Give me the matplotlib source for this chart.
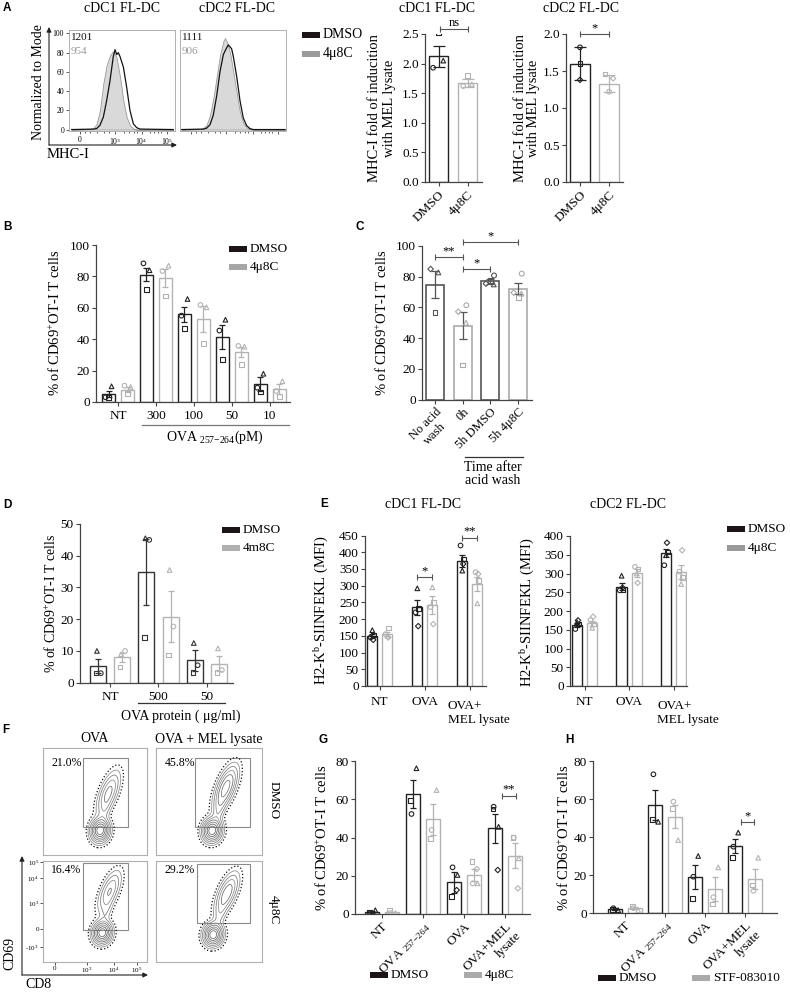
import numpy as np
import matplotlib

matplotlib.use("Agg")
import matplotlib.pyplot as plt
from matplotlib.lines import Line2D
from matplotlib.patches import FancyArrowPatch, Rectangle

plt.rcParams.update(
    {
        "font.family": ["Liberation Serif", "DejaVu Serif"],
        "mathtext.fontset": "custom",
        "mathtext.rm": "Liberation Serif",
        "mathtext.it": "Liberation Serif:italic",
        "mathtext.bf": "Liberation Serif:bold",
        "font.size": 9.5,
        "axes.linewidth": 0.9,
        "figure.facecolor": "white",
        "savefig.facecolor": "white",
    }
)

W, H = 790, 992
NAN = float("nan")
BLACK = "#222222"
LIGHT = "#b3b3b3"
MID = "#555555"

# ---------------- data ----------------
# A: MHC-I histograms (channel units, % of mode)
hist_ticks = [104, 434, 685, 921]
hist_ticklabels = ["0", "10$^3$", "10$^4$", "10$^5$"]
cdc1_dmso_x = [25, 230, 261, 292, 324, 355, 387, 418, 434, 450, 465, 481, 513, 544, 575, 607, 638, 670, 984]
cdc1_dmso_y = [0, 0.5, 1, 4.5, 13, 30, 51, 76, 83, 78, 80, 76, 65, 44, 20, 6, 2, 0.5, 0]
cdc1_4u8c_x = [25, 198, 230, 261, 292, 324, 355, 387, 412, 434, 450, 481, 513, 544, 575, 607, 638, 984]
cdc1_4u8c_y = [0, 0.5, 1.5, 6, 20, 48, 67, 77, 81, 79, 74, 55, 30, 13, 4.5, 1, 0, 0]
cdc2_dmso_x = [16, 220, 252, 283, 314, 346, 377, 409, 440, 456, 472, 487, 503, 535, 566, 597, 629, 660, 692, 991]
cdc2_dmso_y = [0, 0.5, 1.5, 5, 15, 35, 60, 78, 85, 88, 86, 84, 76, 55, 30, 12, 4, 1, 0, 0]
cdc2_4u8c_x = [16, 189, 220, 252, 283, 314, 346, 377, 409, 425, 447, 472, 503, 535, 566, 597, 629, 660, 692, 991]
cdc2_4u8c_y = [0, 0.5, 1.5, 5, 15, 32, 55, 77, 92, 95, 90, 80, 60, 38, 18, 7, 2, 0.5, 0, 0]
cdc1_mfi = ["1201", "954"]
cdc2_mfi = ["1111", "906"]

# A: fold induction bars
a_labels = ["DMSO", "4\u03bc8C"]
a1_mean = [2.12, 1.67]
a1_sd = [0.18, 0.07]
a1_pts = [("s", [2.52, 1.80]), ("o", [1.93, 1.62]), ("^", [2.05, 1.65])]
a2_mean = [1.60, 1.33]
a2_sd = [0.22, 0.12]
a2_pts = [("o", [1.82, 1.22]), ("s", [1.60, 1.46]), ("D", [1.38, 1.40])]

# B
b_groups = ["NT", "300", "100", "50", "10"]
b_dmso_mean = [5.3, 81.2, 55.8, 41.6, 11.7]
b_dmso_sem = [1.8, 4.4, 4.8, 7.7, 4.5]
b_dmso_pts = [("o", [3.0, 88.3, 55.0, 45.5, 9.1]), ("^", [10.0, 83.9, 65.6, 52.4, 18.0]), ("s", [3.0, 71.5, 46.9, 27.0, 6.4])]
b_4u8c_mean = [7.9, 79.0, 52.9, 32.0, 8.1]
b_4u8c_sem = [1.6, 5.7, 8.3, 3.3, 3.3]
b_4u8c_pts = [("o", [10.4, 83.4, 61.8, 35.7, 7.0]), ("^", [9.6, 86.8, 60.3, 35.2, 13.2]), ("s", [5.3, 67.5, 37.2, 24.0, 3.6])]

# C
c_labels = ["No acid\nwash", "0h", "5h DMSO", "5h 4\u03bc8C"]
c_mean = [74.9, 48.0, 76.9, 72.3]
c_sem = [9.0, 8.7, 1.5, 3.5]
c_pts = [
    ("o", [NAN, 61.4, 80.8, 82.0]),
    ("^", [82.8, 50.0, 75.0, 69.0]),
    ("s", [56.8, 22.5, 77.7, 66.6]),
    ("D", [85.0, 57.2, 75.5, 69.6]),
]

# D
d_groups = ["NT", "500", "50"]
d_dmso_mean = [5.2, 35.0, 7.1]
d_dmso_sem = [2.2, 10.4, 3.3]
d_dmso_pts = [("^", [10.0, 45.5, 12.5]), ("o", [3.0, 45.0, 5.5]), ("s", [3.0, 14.2, 3.2])]
d_4m8c_mean = [8.0, 20.8, 6.0]
d_4m8c_sem = [1.5, 8.0, 2.4]
d_4m8c_pts = [("^", [9.0, 35.5, 10.8]), ("o", [10.0, 17.7, 4.0]), ("s", [5.0, 8.7, 3.3])]

# E
e_groups = ["NT", "OVA", ""]
e1_dmso_mean = [150, 235, 375]
e1_dmso_sem = [6, 22, 18]
e1_dmso_pts = [("^", [167, 292, 345]), ("s", [152, 232, 380]), ("o", [145, 220, 420]), ("D", [138, 179, 365])]
e1_4u8c_mean = [156, 242, 305]
e1_4u8c_sem = [6, 26, 20]
e1_4u8c_pts = [("^", [150, 295, 247]), ("s", [174, 250, 315]), ("o", [155, 236, 340]), ("D", [145, 185, 335])]
e2_dmso_mean = [163, 265, 355]
e2_dmso_sem = [6, 9, 10]
e2_dmso_pts = [("^", [170, 294, 349]), ("s", [165, 258, 357]), ("o", [152, 255, 322]), ("D", [175, 262, 382])]
e2_4u8c_mean = [167, 301, 304]
e2_4u8c_sem = [7, 10, 18]
e2_4u8c_pts = [("^", [155, 300, 272]), ("s", [165, 312, 290]), ("o", [176, 318, 305]), ("D", [185, 275, 362])]

# F: flow plots (axes-fraction units)
flow_pct = ["21.0%", "45.8%", "16.4%", "29.2%"]
flow_gate = [(0.385, 0.26, 0.82, 0.91), (0.37, 0.26, 0.89, 0.91), (0.385, 0.32, 0.82, 0.98), (0.39, 0.39, 0.89, 0.97)]
flow_low = [(0.55, 0.23), (0.53, 0.23), (0.57, 0.29), (0.54, 0.27)]
flow_high = [(0.63, 0.58), (0.66, 0.63), (0.64, 0.70), (0.67, 0.68)]
flow_high_weight = [0.30, 0.50, 0.26, 0.36]

# G
g_labels = ["NT", "OVA $_{257\\mathrm{-}264}$", "OVA", "OVA+MEL\nlysate"]
g_dmso_mean = [1.2, 62.6, 16.6, 44.8]
g_dmso_sem = [0.5, 7.3, 5.5, 7.7]
g_dmso_pts = [("^", [2.0, 76.2, 20.4, 45.6]), ("s", [1.0, 59.2, 9.1, 54.9]), ("o", [0.5, 52.3, 24.4, 56.1]), ("D", [NAN, NAN, 12.5, 23.0])]
g_4u8c_mean = [0.8, 49.5, 20.4, 30.5]
g_4u8c_sem = [0.4, 8.0, 3.1, 6.5]
g_4u8c_pts = [("^", [0.5, 64.8, 16.0, 29.1]), ("s", [1.8, 39.4, 27.3, 39.9]), ("o", [0.5, 43.9, 16.0, 39.9]), ("D", [NAN, NAN, 23.5, 13.4])]

# H
h_dmso_mean = [2.0, 56.8, 18.9, 35.3]
h_dmso_sem = [0.5, 7.9, 6.4, 3.8]
h_dmso_pts = [("^", [1.5, 48.0, 30.0, 42.3]), ("o", [2.5, 73.0, 19.1, 34.9]), ("s", [2.0, 49.3, 7.7, 29.3])]
h_stf_mean = [2.5, 50.7, 12.5, 18.1]
h_stf_sem = [0.6, 6.1, 6.4, 5.3]
h_stf_pts = [("^", [1.5, 38.4, 24.0, 29.1]), ("o", [2.5, 58.6, 8.3, 11.7]), ("s", [3.5, 55.1, 4.7, 14.7])]

CD69_LABEL = "% of CD69$^{+}$OT-I T cells"
H2K_LABEL = "H2-K$^{\\mathrm{b}}$-SIINFEKL (MFI)"

fig = plt.figure(figsize=(W / 100, H / 100), dpi=100)


def px_axes(x0, y0, x1, y1):
    ax = fig.add_axes([x0 / W, 1 - y1 / H, (x1 - x0) / W, (y1 - y0) / H])
    ax.patch.set_alpha(0)
    return ax


def ftext(x, y, s, **kw):
    kw.setdefault("ha", "center")
    kw.setdefault("va", "center")
    fig.text(x / W, 1 - y / H, s, **kw)


def fline(x0, y0, x1, y1, color=MID, lw=0.9):
    fig.add_artist(Line2D([x0 / W, x1 / W], [1 - y0 / H, 1 - y1 / H], transform=fig.transFigure, color=color, lw=lw))


def farrow(x0, y0, x1, y1):
    fig.add_artist(
        FancyArrowPatch(
            (x0 / W, 1 - y0 / H), (x1 / W, 1 - y1 / H), transform=fig.transFigure,
            arrowstyle="-|>", mutation_scale=7, lw=0.8, color="#222222", shrinkA=0, shrinkB=0,
        )
    )


def swatch(x, y, color, label, w=18, h=6, fs=9.5):
    fig.add_artist(Rectangle((x / W, 1 - (y + h / 2) / H), w / W, h / H, transform=fig.transFigure,
                             facecolor=color, edgecolor="none"))
    ftext(x + w + 3, y, label, ha="left", fontsize=fs)


def letter(x, y, s):
    ftext(x, y, s, fontsize=8.5, fontweight="bold", family="Liberation Sans")


def style_bar_axes(ax, xlim, ylim, yticks, yfmt="{:g}"):
    ax.set_xlim(*xlim)
    ax.set_ylim(*ylim)
    ax.set_yticks(yticks)
    ax.set_yticklabels([yfmt.format(v) for v in yticks])
    ax.spines[["top", "right"]].set_visible(False)
    ax.spines[["left", "bottom"]].set_color("#444444")
    ax.tick_params(axis="both", length=3, width=0.8, color="#444444", labelsize=9.5, pad=1.5)


def draw_bars(ax, x, means, errs, pts, color, width, jitter, capsize=2.5, ecolor=None, ms=11):
    x = np.asarray(x, dtype=float)
    ax.bar(x, means, width, color="white", edgecolor=color, linewidth=1.0, zorder=2)
    ax.errorbar(x, means, yerr=errs, fmt="none", ecolor=ecolor or color, elinewidth=0.9,
                capsize=capsize, capthick=0.9, zorder=4)
    for marker, vals in pts:
        size = ms * 0.7 if marker == "D" else ms
        ax.scatter(x + jitter.get(marker, 0.0), vals, marker=marker, s=size, facecolors="none",
                   edgecolors=color, linewidths=0.8, zorder=5)


def bracket(ax, x0, x1, y, label, color=MID):
    ax.plot([x0, x1], [y, y], color=color, lw=0.8, marker="|", ms=4, mew=0.8, clip_on=False, zorder=6)
    ax.text((x0 + x1) / 2, y, label, ha="center", va="bottom", fontsize=9, clip_on=False)


def rot_labels(ax, labels, ticks, fs=9.5, malign="right"):
    ax.set_xticks(ticks)
    ax.set_xticklabels(labels, rotation=45, ha="right", va="top", rotation_mode="anchor",
                       fontsize=fs, multialignment=malign)


# ---------------- A: histograms ----------------
def hist_panel(box, dx, dy, gx_, gy_, mfi, labels_on):
    ax = px_axes(*box)
    ax.fill_between(gx_, gy_, color="#d9d9d9", edgecolor="#9a9a9a", linewidth=0.6, zorder=1)
    ax.plot(dx, dy, color="#111111", lw=0.9, zorder=2)
    ax.set_xlim(0, 1000)
    ax.set_ylim(-1.5, 103.5)
    for sp in ax.spines.values():
        sp.set_color("#b0b0b0")
        sp.set_linewidth(0.7)
    ax.set_xticks(hist_ticks)
    ax.set_xticks([150, 200, 260, 330, 380, 520, 570, 610, 640, 760, 800, 840, 870], minor=True)
    ax.set_xticklabels(hist_ticklabels if labels_on else [])
    if labels_on:
        ax.set_yticks([0, 20, 40, 60, 80, 100])
    else:
        ax.set_yticks([])
    ax.tick_params(which="both", labelsize=5.5, length=2.5, width=0.6, pad=1, color="#444444")
    ax.tick_params(which="minor", length=1.5)
    ax.text(0.02, 0.93, mfi[0], transform=ax.transAxes, fontsize=8, color="#111111", va="center")
    ax.text(0.02, 0.79, mfi[1], transform=ax.transAxes, fontsize=8, color="#999999", va="center")
    return ax


hist_panel((69, 30, 175, 131), cdc1_dmso_x, cdc1_dmso_y, cdc1_4u8c_x, cdc1_4u8c_y, cdc1_mfi, True)
hist_panel((180, 30, 286, 131), cdc2_dmso_x, cdc2_dmso_y, cdc2_4u8c_x, cdc2_4u8c_y, cdc2_mfi, False)
farrow(49, 145, 49, 27)
farrow(49, 145, 177, 145)
ftext(122, 8, "cDC1 FL-DC", fontsize=10)
ftext(237, 8, "cDC2 FL-DC", fontsize=10)
ftext(38, 82, "Normalized to Mode", rotation=90, fontsize=10)
ftext(68, 154, "MHC-I", fontsize=10.5)
swatch(302, 35, "#1c1416", "DMSO", fs=10)
swatch(302, 54, "#9b9b9b", "4\u03bc8C", fs=10)
letter(7, 8, "A")

# ---------------- A: fold induction ----------------
ax = px_axes(425, 34, 482, 182)
draw_bars(ax, [0], a1_mean[:1], a1_sd[:1], [(m, v[:1]) for m, v in a1_pts], BLACK, 0.66,
          {"s": 0.0, "o": -0.19, "^": 0.16}, capsize=4)
draw_bars(ax, [1], a1_mean[1:], a1_sd[1:], [(m, v[1:]) for m, v in a1_pts], LIGHT, 0.66,
          {"s": 0.0, "o": -0.15, "^": 0.15}, capsize=4)
style_bar_axes(ax, (-0.47, 1.5), (0, 2.5), [0, 0.5, 1.0, 1.5, 2.0, 2.5], "{:.1f}")
rot_labels(ax, a_labels, [0, 1])
bracket(ax, 0.05, 1.0, 2.58, "ns")
ftext(437, 8, "cDC1 FL-DC", fontsize=10)
ftext(382, 108, "MHC-I fold of inducition\nwith MEL lysate", rotation=90, fontsize=10.5, linespacing=1.1)

ax = px_axes(566, 34, 623, 182)
draw_bars(ax, [0], a2_mean[:1], a2_sd[:1], [(m, v[:1]) for m, v in a2_pts], BLACK, 0.69, {}, capsize=4)
draw_bars(ax, [1], a2_mean[1:], a2_sd[1:], [(m, v[1:]) for m, v in a2_pts], LIGHT, 0.69,
          {"o": 0.0, "s": -0.14, "D": 0.14}, capsize=4)
style_bar_axes(ax, (-0.48, 1.48), (0, 2.0), [0, 0.5, 1.0, 1.5, 2.0], "{:.1f}")
rot_labels(ax, a_labels, [0, 1])
bracket(ax, 0.0, 1.0, 2.0, "*")
ftext(581, 8, "cDC2 FL-DC", fontsize=10)
ftext(527, 108, "MHC-I fold of inducition\nwith MEL lysate", rotation=90, fontsize=10.5, linespacing=1.1)

# ---------------- B ----------------
ax = px_axes(96, 245, 290, 402)
gb = np.arange(len(b_groups))
jit_b = {"o": -0.08, "^": 0.08, "s": 0.0}
draw_bars(ax, gb - 0.25, b_dmso_mean, b_dmso_sem, b_dmso_pts, BLACK, 0.34, jit_b)
draw_bars(ax, gb + 0.25, b_4u8c_mean, b_4u8c_sem, b_4u8c_pts, LIGHT, 0.34, jit_b)
style_bar_axes(ax, (-0.58, 4.53), (0, 100), [0, 20, 40, 60, 80, 100])
ax.set_xticks(gb)
ax.set_xticklabels(b_groups)
ax.tick_params(axis="x", pad=3)
fline(142, 425, 289, 425, color="#777777")
ftext(215, 437, "OVA $_{257\\mathrm{-}264}$(pM)", fontsize=10)
ftext(55, 323, CD69_LABEL, rotation=90, fontsize=10.5)
swatch(229, 249, "#1c1416", "DMSO")
swatch(229, 267, "#a6a6a6", "4\u03bc8C")
letter(7, 227, "B")

# ---------------- C ----------------
ax = px_axes(422, 246, 532, 399.5)
gc = np.arange(len(c_labels))
c_colors = [MID, "#aaaaaa", MID, "#aaaaaa"]
ax.bar(gc, c_mean, 0.65, color="white", edgecolor=c_colors, linewidth=1.2, zorder=2)
ax.errorbar(gc, c_mean, yerr=c_sem, fmt="none", ecolor=MID, elinewidth=0.9, capsize=3, capthick=0.9, zorder=4)
jit_c = {"o": 0.13, "^": 0.12, "s": 0.0, "D": -0.16}
for marker, vals in c_pts:
    ax.scatter(gc + jit_c[marker], vals, marker=marker, s=8 if marker == "D" else 12, facecolors="none",
               edgecolors=c_colors, linewidths=0.8, zorder=5)
style_bar_axes(ax, (-0.47, 3.5), (0, 100), [0, 20, 40, 60, 80, 100])
rot_labels(ax, c_labels, gc, fs=9, malign="center")
bracket(ax, 0, 1, 92.6, "**")
bracket(ax, 1, 2, 85, "*")
bracket(ax, 1, 3, 102.4, "*")
fline(465, 457, 523, 457, color="#333333")
ftext(493, 474, "Time after\nacid wash", fontsize=10, linespacing=1.05)
ftext(382, 323, CD69_LABEL, rotation=90, fontsize=10.5)
letter(360, 227, "C")

# ---------------- D ----------------
ax = px_axes(80, 524, 233, 682.7)
gd = np.arange(len(d_groups))
jit_d = {"^": -0.02, "o": 0.06, "s": -0.04}
draw_bars(ax, gd - 0.25, d_dmso_mean, d_dmso_sem, d_dmso_pts, "#333333", 0.33, jit_d)
draw_bars(ax, gd + 0.25, d_4m8c_mean, d_4m8c_sem, d_4m8c_pts, LIGHT, 0.33, jit_d)
style_bar_axes(ax, (-0.62, 2.54), (0, 50), [0, 10, 20, 30, 40, 50])
ax.set_xticks(gd)
ax.set_xticklabels(d_groups)
ax.tick_params(axis="x", pad=3)
fline(138, 703, 225, 703, color="#333333")
ftext(181, 716, "OVA protein ( \u03bcg/ml)", fontsize=10)
ftext(51, 603, CD69_LABEL, rotation=90, fontsize=10)
swatch(222, 530, "#1c1416", "DMSO")
swatch(222, 548, "#b0b0b0", "4m8C")
letter(7, 505, "D")

# ---------------- E ----------------
jit_e = {"^": 0.0, "s": 0.03, "o": -0.04, "D": 0.02}
ax = px_axes(365, 535.5, 486, 686)
ge = np.arange(3)
draw_bars(ax, ge - 0.167, e1_dmso_mean, e1_dmso_sem, e1_dmso_pts, BLACK, 0.22, jit_e, capsize=2)
draw_bars(ax, ge + 0.167, e1_4u8c_mean, e1_4u8c_sem, e1_4u8c_pts, LIGHT, 0.22, jit_e, capsize=2)
style_bar_axes(ax, (-0.33, 2.36), (0, 450), list(range(0, 451, 50)))
ax.set_xticks(ge)
ax.set_xticklabels(e_groups)
ax.tick_params(axis="x", pad=4)
ax.text(1.51, -0.095, "OVA+\nMEL lysate", transform=ax.get_xaxis_transform(), ha="left", va="top",
        fontsize=9.5, linespacing=1.15)
bracket(ax, 1 - 0.167, 1 + 0.167, 325, "*")
bracket(ax, 2 - 0.167, 2 + 0.167, 444, "**")
ftext(423, 504, "cDC1 FL-DC", fontsize=10)
ftext(322, 610, H2K_LABEL, rotation=90, fontsize=10.5)
letter(324, 504, "E")

ax = px_axes(570, 536, 687, 686)
draw_bars(ax, ge - 0.17, e2_dmso_mean, e2_dmso_sem, e2_dmso_pts, BLACK, 0.23, jit_e, capsize=2)
draw_bars(ax, ge + 0.17, e2_4u8c_mean, e2_4u8c_sem, e2_4u8c_pts, LIGHT, 0.23, jit_e, capsize=2)
style_bar_axes(ax, (-0.33, 2.3), (0, 400), list(range(0, 401, 50)))
ax.set_xticks(ge)
ax.set_xticklabels(e_groups)
ax.tick_params(axis="x", pad=4)
ax.text(1.63, -0.095, "OVA+\nMEL lysate", transform=ax.get_xaxis_transform(), ha="left", va="top",
        fontsize=9.5, linespacing=1.15)
ftext(628, 504, "cDC2 FL-DC", fontsize=10)
ftext(528, 612, H2K_LABEL, rotation=90, fontsize=10.5)
swatch(727, 529, "#1c1416", "DMSO")
swatch(727, 548, "#999999", "4\u03bc8C")

# ---------------- F ----------------
grid = np.linspace(0, 1, 260)
fx, fy = np.meshgrid(grid, grid)


def blob(cx, cy, sa, sb, ang):
    t = np.deg2rad(ang)
    dx, dy = fx - cx, fy - cy
    u = dx * np.cos(t) + dy * np.sin(t)
    v = -dx * np.sin(t) + dy * np.cos(t)
    return np.exp(-0.5 * ((u / sa) ** 2 + (v / sb) ** 2))


flow_boxes = [(43, 748, 147, 855), (156, 748, 262, 855), (43, 861, 147, 962), (156, 861, 262, 962)]
rel_levels = [0.012, 0.035, 0.08, 0.15, 0.25, 0.4, 0.58, 0.78]
level_colors = ["#111111", "#8a8a8a", "#7a7a7a", "#8a8a8a", "#6a6a6a", "#777777", "#5a5a5a", "#666666"]
for i, box in enumerate(flow_boxes):
    ax = px_axes(*box)
    lo, hi, wgt = flow_low[i], flow_high[i], flow_high_weight[i]
    dens = blob(lo[0], lo[1], 0.055, 0.045, 80) + wgt * blob(hi[0], hi[1], 0.11, 0.042, 68)
    dens += 0.25 * wgt * blob((lo[0] + hi[0]) / 2, (lo[1] + hi[1]) / 2, 0.09, 0.03, 75)
    ax.contour(fx, fy, dens, levels=[lv * dens.max() for lv in rel_levels], colors=level_colors,
               linewidths=[0.9, 0.55, 0.55, 0.55, 0.55, 0.55, 0.55, 0.55],
               linestyles=[":", "-", "-", "-", "-", "-", "-", "-"])
    x0, y0, x1, y1 = flow_gate[i]
    ax.add_patch(Rectangle((x0, y0), x1 - x0, y1 - y0, fill=False, edgecolor="#8a8a8a", lw=0.8))
    ax.text(0.08, 0.86 if i < 2 else 0.91, flow_pct[i], transform=ax.transAxes, fontsize=8.5, va="center")
    ax.set_xlim(0, 1)
    ax.set_ylim(0, 1)
    for sp in ax.spines.values():
        sp.set_color("#b0b0b0")
        sp.set_linewidth(0.8)
    if i == 2:
        ax.set_xticks([0.115, 0.42, 0.68, 0.9])
        ax.set_xticklabels(["0", "10$^3$", "10$^4$", "10$^5$"])
        ax.set_yticks([0.15, 0.33, 0.58, 0.83, 0.99])
        ax.set_yticklabels(["-10$^3$", "0", "10$^3$", "10$^4$", "10$^5$"])
        ax.tick_params(labelsize=5, length=2, width=0.6, pad=1, color="#333333")
    else:
        ax.set_xticks([])
        ax.set_yticks([])

farrow(22, 975, 22, 856)
farrow(22, 975, 148, 975)
ftext(10, 953, "CD69", rotation=90, fontsize=10)
ftext(38, 985, "CD8", fontsize=10)
ftext(95, 739, "OVA", fontsize=10)
ftext(209, 739, "OVA + MEL lysate", fontsize=10)
ftext(274, 800, "DMSO", rotation=270, fontsize=9.5)
ftext(274, 910, "4\u03bc8C", rotation=270, fontsize=9.5)
letter(6, 730, "F")

# ---------------- G ----------------
gg = np.arange(4)
jit_g = {"^": 0.08, "s": -0.06, "o": -0.04, "D": 0.06}
ax = px_axes(355, 761, 530, 914)
draw_bars(ax, gg - 0.245, g_dmso_mean, g_dmso_sem, g_dmso_pts, BLACK, 0.34, jit_g)
draw_bars(ax, gg + 0.245, g_4u8c_mean, g_4u8c_sem, g_4u8c_pts, LIGHT, 0.34, jit_g)
style_bar_axes(ax, (-0.66, 3.6), (0, 80), [0, 20, 40, 60, 80])
rot_labels(ax, g_labels, gg)
bracket(ax, 2.91, 3.25, 61.9, "**")
ftext(322, 838, CD69_LABEL, rotation=90, fontsize=10.5)
swatch(370, 975, "#1c1416", "DMSO")
swatch(464, 975, "#aaaaaa", "4\u03bc8C")
letter(323, 740, "G")

# ---------------- H ----------------
ax = px_axes(593, 761, 777, 913)
draw_bars(ax, gg - 0.25, h_dmso_mean, h_dmso_sem, h_dmso_pts, BLACK, 0.35, jit_g)
draw_bars(ax, gg + 0.25, h_stf_mean, h_stf_sem, h_stf_pts, LIGHT, 0.35, jit_g)
style_bar_axes(ax, (-0.8, 3.8), (0, 80), [0, 20, 40, 60, 80])
rot_labels(ax, g_labels, gg)
bracket(ax, 2.9, 3.23, 47.7, "*")
ftext(564, 838, CD69_LABEL, rotation=90, fontsize=10.5)
swatch(598, 978, "#1c1416", "DMSO")
swatch(692, 978, "#aaaaaa", "STF-083010")
letter(569, 740, "H")

fig.savefig("out.png", dpi=100)
